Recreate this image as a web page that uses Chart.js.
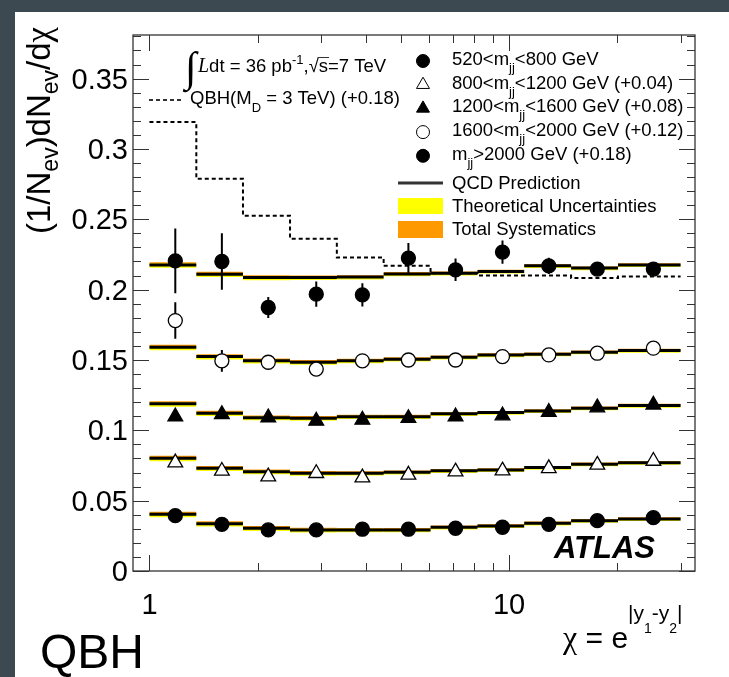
<!DOCTYPE html>
<html>
<head>
<meta charset="utf-8">
<script src="https://cdn.jsdelivr.net/npm/chart.js@4.4.1/dist/chart.umd.min.js"></script>
<style>
  html, body { margin: 0; padding: 0; background: #ffffff; }
  #wrap { width: 729px; height: 677px; }
</style>
</head>
<body>
<div id="wrap"><canvas id="chart" width="729" height="677"></canvas></div>
<script>
// chi bin edges and where each bin's point sits
const CHI_EDGES = [1, 1.35, 1.82, 2.46, 3.32, 4.48, 6.05, 8.17, 11.02, 14.88, 20.09, 30];
const CHI_POINTS = [1.18, 1.59, 2.14, 2.91, 3.91, 5.25, 7.10, 9.59, 12.9, 17.6, 25.2];

// measured (1/N)dN/dchi per dijet mass bin, offsets included
const DATA_520_800 = [0.0393, 0.0332, 0.0292, 0.0292, 0.0297, 0.0297, 0.0304, 0.0311, 0.0332, 0.0358, 0.0379];
const DATA_800_1200 = [0.0770, 0.0711, 0.0671, 0.0695, 0.0664, 0.0683, 0.0706, 0.0713, 0.0730, 0.0754, 0.0782];
const DATA_1200_1600 = [0.1097, 0.1114, 0.1090, 0.1067, 0.1074, 0.1086, 0.1097, 0.1105, 0.1129, 0.1162, 0.1181];
const DATA_1600_2000 = [0.1780, 0.1494, 0.1484, 0.1435, 0.1494, 0.1500, 0.1500, 0.1524, 0.1536, 0.1548, 0.1584];
const DATA_2000_UP = [0.2205, 0.2200, 0.1873, 0.1968, 0.1963, 0.2224, 0.2141, 0.2267, 0.2169, 0.2146, 0.2146];

// statistical errors
const ERR_520_800 = [0.0010, 0.0010, 0.0010, 0.0010, 0.0010, 0.0010, 0.0010, 0.0010, 0.0010, 0.0010, 0.0010];
const ERR_800_1200 = [0.0020, 0.0015, 0.0015, 0.0015, 0.0015, 0.0015, 0.0015, 0.0015, 0.0015, 0.0015, 0.0015];
const ERR_1200_1600 = [0.0030, 0.0025, 0.0020, 0.0020, 0.0020, 0.0020, 0.0020, 0.0020, 0.0020, 0.0020, 0.0020];
const ERR_1600_2000 = [0.0130, 0.0077, 0.0050, 0.0035, 0.0030, 0.0030, 0.0030, 0.0030, 0.0030, 0.0030, 0.0030];
const ERR_2000_UP = [0.0230, 0.0200, 0.0075, 0.0090, 0.0083, 0.0107, 0.0080, 0.0083, 0.0057, 0.0040, 0.0030];

// QCD prediction per bin
const QCD_520_800 = [0.0403, 0.0336, 0.0304, 0.0292, 0.0292, 0.0292, 0.0311, 0.0320, 0.0339, 0.0358, 0.0370];
const QCD_800_1200 = [0.0802, 0.0730, 0.0706, 0.0695, 0.0695, 0.0702, 0.0713, 0.0718, 0.0735, 0.0759, 0.0770];
const QCD_1200_1600 = [0.1188, 0.1122, 0.1090, 0.1086, 0.1097, 0.1097, 0.1117, 0.1126, 0.1138, 0.1157, 0.1176];
const QCD_1600_2000 = [0.1591, 0.1524, 0.1494, 0.1484, 0.1494, 0.1506, 0.1520, 0.1535, 0.1541, 0.1555, 0.1567];
const QCD_2000_UP = [0.2176, 0.2110, 0.2086, 0.2086, 0.2089, 0.2112, 0.2117, 0.2129, 0.2169, 0.2153, 0.2176];

// band extents around the QCD prediction
const THEORY_DOWN = [0.0021, 0.0020, 0.0019, 0.0018, 0.0017, 0.0016, 0.0016, 0.0015, 0.0015, 0.0015, 0.0015];
const THEORY_UP = [0.0009, 0.0009, 0.0008, 0.0008, 0.0008, 0.0007, 0.0007, 0.0007, 0.0007, 0.0007, 0.0007];
const SYST_DOWN = [0.0005, 0.0005, 0.0005, 0.0005, 0.0005, 0.0005, 0.0005, 0.0005, 0.0005, 0.0005, 0.0005];
const SYST_UP = [0.0018, 0.0017, 0.0016, 0.0015, 0.0014, 0.0013, 0.0012, 0.0012, 0.0012, 0.0012, 0.0012];

// quantum black hole signal, M_D = 3 TeV (+0.18)
const QBH_3TEV = [0.3191, 0.2788, 0.2525, 0.2361, 0.2228, 0.2169, 0.2117, 0.2100, 0.2100, 0.2082, 0.2093];

const Y_TICK_VALUES = [0, 0.05, 0.1, 0.15, 0.2, 0.25, 0.3, 0.35];
const Y_TICK_LABELS = ['0', '0.05', '0.1', '0.15', '0.2', '0.25', '0.3', '0.35'];
const X_TICK_VALUES = [1, 10];
const X_TICK_LABELS = ['1', '10'];
const X_MINOR = [2, 3, 4, 5, 6, 7, 8, 9, 20, 30];

const SANS = '"Liberation Sans", Arial, Helvetica, sans-serif';
const SERIF = '"Liberation Serif", "Times New Roman", serif';
const YELLOW = '#ffff00';
const ORANGE = '#ff9900';
const LEG = '18.5px ' + SANS;
const LEG_SMALL = '13px ' + SANS;

const GROUPS = [
  { values: DATA_520_800, errs: ERR_520_800, qcd: QCD_520_800, style: 'circle', open: false },
  { values: DATA_800_1200, errs: ERR_800_1200, qcd: QCD_800_1200, style: 'triangle', open: true },
  { values: DATA_1200_1600, errs: ERR_1200_1600, qcd: QCD_1200_1600, style: 'triangle', open: false },
  { values: DATA_1600_2000, errs: ERR_1600_2000, qcd: QCD_1600_2000, style: 'circle', open: true },
  { values: DATA_2000_UP, errs: ERR_2000_UP, qcd: QCD_2000_UP, style: 'circle', open: false }
];

// separate horizontal pieces, one per bin
function binSegments(values) {
  const pts = [];
  values.forEach((v, i) => {
    pts.push({ x: CHI_EDGES[i], y: v }, { x: CHI_EDGES[i + 1], y: v }, { x: CHI_EDGES[i + 1], y: null });
  });
  return pts;
}

// connected histogram outline
function histogram(values) {
  const pts = values.map((v, i) => ({ x: CHI_EDGES[i], y: v }));
  pts.push({ x: CHI_EDGES[values.length], y: values[values.length - 1] });
  return pts;
}

function errorSegments(values, errs) {
  const pts = [];
  values.forEach((v, i) => {
    const x = CHI_POINTS[i];
    pts.push({ x: x, y: v - errs[i] }, { x: x, y: v + errs[i] }, { x: x, y: null });
  });
  return pts;
}

const lineBase = { showLine: true, pointRadius: 0, spanGaps: false, tension: 0 };
const NONE = 'rgba(0,0,0,0)';

const datasets = [];
GROUPS.forEach(g => {
  const sysLo = g.qcd.map((v, i) => v - SYST_DOWN[i]);
  const sysHi = g.qcd.map((v, i) => v + SYST_UP[i]);
  const thLo = g.qcd.map((v, i) => v - THEORY_DOWN[i]);
  const thHi = g.qcd.map((v, i) => v + THEORY_UP[i]);
  datasets.push(Object.assign({}, lineBase, { data: binSegments(sysLo), borderColor: NONE, borderWidth: 1, fill: false, order: 50 }));
  datasets.push(Object.assign({}, lineBase, { data: binSegments(sysHi), borderColor: NONE, borderWidth: 1, fill: '-1', backgroundColor: ORANGE, order: 50 }));
  datasets.push(Object.assign({}, lineBase, { data: binSegments(thLo), borderColor: NONE, borderWidth: 1, fill: false, order: 40 }));
  datasets.push(Object.assign({}, lineBase, { data: binSegments(thHi), borderColor: NONE, borderWidth: 1, fill: '-1', backgroundColor: YELLOW, order: 40 }));
  datasets.push(Object.assign({}, lineBase, { data: binSegments(g.qcd), borderColor: '#000000', borderWidth: 3, fill: false, borderCapStyle: 'butt', order: 30 }));
});

datasets.push(Object.assign({}, lineBase, {
  data: histogram(QBH_3TEV), stepped: true, borderColor: '#000000', borderWidth: 2,
  borderDash: [4, 3], fill: false, order: 20
}));

GROUPS.forEach(g => {
  datasets.push(Object.assign({}, lineBase, { data: errorSegments(g.values, g.errs), borderColor: '#000000', borderWidth: 2, fill: false, order: 10 }));
  datasets.push({
    data: g.values.map((v, i) => ({ x: CHI_POINTS[i], y: v })),
    showLine: false,
    pointStyle: g.style,
    pointRadius: g.style === 'triangle' ? 8.5 : 7,
    pointBackgroundColor: g.open ? '#ffffff' : '#000000',
    pointBorderColor: '#000000',
    pointBorderWidth: 1.3,
    order: 0
  });
});

// write a run of text pieces (sub/superscripts via dy)
function drawParts(ctx, x, y, parts) {
  let cx = x;
  parts.forEach(p => {
    ctx.font = p.font;
    ctx.fillText(p.text, cx, y + (p.dy || 0));
    cx += ctx.measureText(p.text).width + (p.gap || 0);
  });
  return cx;
}

function marker(ctx, style, open, x, y) {
  ctx.save();
  ctx.fillStyle = open ? '#ffffff' : '#000000';
  ctx.strokeStyle = '#000000';
  Chart.helpers.drawPoint(ctx, { pointStyle: style, radius: style === 'triangle' ? 7.5 : 6.5, rotation: 0, borderWidth: 1.2 }, x, y);
  ctx.restore();
}

const backdrop = {
  id: 'backdrop',
  beforeDraw(chart) {
    const ctx = chart.ctx;
    ctx.save();
    ctx.fillStyle = '#ffffff';
    ctx.fillRect(0, 0, chart.width, chart.height);
    ctx.fillStyle = '#3d4950';
    ctx.fillRect(0, 0, chart.width, 12);
    ctx.fillRect(0, 0, 15, chart.height);
    ctx.restore();
  }
};

const frameAndText = {
  id: 'frameAndText',
  afterDraw(chart) {
    const ctx = chart.ctx;
    const a = chart.chartArea;
    const xs = chart.scales.x;
    const ys = chart.scales.y;
    ctx.save();

    // frame
    ctx.strokeStyle = '#333333';
    ctx.lineWidth = 1.3;
    ctx.strokeRect(a.left, a.top, a.right - a.left, a.bottom - a.top);

    // inward ticks on all four sides
    ctx.lineWidth = 1;
    ctx.beginPath();
    for (let k = 0; k <= 38; k++) {
      const py = Math.round(ys.getPixelForValue(k / 100)) + 0.5;
      const len = k % 5 === 0 ? 16 : 8;
      ctx.moveTo(a.left, py); ctx.lineTo(a.left + len, py);
      ctx.moveTo(a.right, py); ctx.lineTo(a.right - len, py);
    }
    X_TICK_VALUES.concat(X_MINOR).forEach(v => {
      const px = Math.round(xs.getPixelForValue(v)) + 0.5;
      const len = X_TICK_VALUES.includes(v) ? 16 : 8;
      ctx.moveTo(px, a.bottom); ctx.lineTo(px, a.bottom - len);
      ctx.moveTo(px, a.top); ctx.lineTo(px, a.top + len);
    });
    ctx.stroke();

    ctx.fillStyle = '#000000';
    ctx.textBaseline = 'alphabetic';

    // tick labels
    ctx.font = '29px ' + SANS;
    ctx.textAlign = 'right';
    Y_TICK_VALUES.forEach((v, i) => {
      ctx.fillText(Y_TICK_LABELS[i], 128, ys.getPixelForValue(v) + 10);
    });
    ctx.textAlign = 'center';
    X_TICK_VALUES.forEach((v, i) => {
      ctx.fillText(X_TICK_LABELS[i], xs.getPixelForValue(v), 614);
    });
    ctx.textAlign = 'left';

    // y axis title, reading upwards
    ctx.save();
    ctx.translate(50, 234);
    ctx.rotate(-Math.PI / 2);
    drawParts(ctx, 0, 0, [
      { text: '(1/N', font: '33px ' + SANS },
      { text: 'ev', font: '23px ' + SANS, dy: 8 },
      { text: ')dN', font: '33px ' + SANS },
      { text: 'ev', font: '23px ' + SANS, dy: 8 },
      { text: '/d', font: '33px ' + SANS },
      { text: 'χ', font: '35px ' + SERIF }
    ]);
    ctx.restore();

    // x axis title
    drawParts(ctx, 563, 648, [
      { text: 'χ', font: '32px ' + SERIF },
      { text: ' = e', font: '30px ' + SANS },
      { text: '|y', font: '21px ' + SANS, dy: -28 },
      { text: '1', font: '14px ' + SANS, dy: -15 },
      { text: '-y', font: '21px ' + SANS, dy: -28 },
      { text: '2', font: '14px ' + SANS, dy: -15 },
      { text: '|', font: '21px ' + SANS, dy: -28 }
    ]);

    // panel name
    ctx.font = '48px ' + SANS;
    ctx.fillText('QBH', 40, 668);

    // experiment label
    ctx.font = 'italic bold 31px ' + SANS;
    ctx.fillText('ATLAS', 554, 558);

    // luminosity line
    ctx.font = '42px ' + SERIF;
    ctx.fillText('∫', 185, 81);
    const cx = drawParts(ctx, 198, 72, [
      { text: 'L', font: 'italic 20px ' + SERIF },
      { text: 'dt = 36 pb', font: LEG },
      { text: '-1', font: LEG_SMALL, dy: -8 },
      { text: ',', font: LEG },
      { text: '√', font: LEG }
    ]);
    ctx.font = LEG;
    const sW = ctx.measureText('s').width;
    ctx.beginPath();
    ctx.lineWidth = 1;
    ctx.moveTo(cx - 1, 57.5); ctx.lineTo(cx + sW + 1, 57.5);
    ctx.stroke();
    drawParts(ctx, cx, 72, [{ text: 's=7 TeV', font: LEG }]);

    // signal legend entry
    ctx.save();
    ctx.setLineDash([4, 3]);
    ctx.lineWidth = 2;
    ctx.beginPath();
    ctx.moveTo(149, 100); ctx.lineTo(182, 100);
    ctx.stroke();
    ctx.restore();
    drawParts(ctx, 190, 104, [
      { text: 'QBH(M', font: LEG },
      { text: 'D', font: LEG_SMALL, dy: 8 },
      { text: ' = 3 TeV) (+0.18)', font: LEG }
    ]);

    // data legend
    const rows = [
      ['520<m', '<800 GeV'],
      ['800<m', '<1200 GeV (+0.04)'],
      ['1200<m', '<1600 GeV (+0.08)'],
      ['1600<m', '<2000 GeV (+0.12)'],
      ['m', '>2000 GeV (+0.18)']
    ];
    rows.forEach((r, i) => {
      const base = 65 + i * 23.7;
      marker(ctx, GROUPS[i].style, GROUPS[i].open, 423, base - 4);
      ctx.fillStyle = '#000000';
      drawParts(ctx, 452, base, [
        { text: r[0], font: LEG },
        { text: 'jj', font: LEG_SMALL, dy: 7 },
        { text: r[1], font: LEG }
      ]);
    });

    ctx.lineWidth = 3;
    ctx.beginPath();
    ctx.moveTo(398, 183); ctx.lineTo(443, 183);
    ctx.stroke();
    ctx.fillStyle = YELLOW;
    ctx.fillRect(398, 198, 45, 16);
    ctx.fillStyle = ORANGE;
    ctx.fillRect(398, 221, 45, 17);
    ctx.fillStyle = '#000000';
    ctx.font = LEG;
    ctx.fillText('QCD Prediction', 452, 189);
    ctx.fillText('Theoretical Uncertainties', 452, 212);
    ctx.fillText('Total Systematics', 452, 235);

    ctx.restore();
  }
};

new Chart(document.getElementById('chart').getContext('2d'), {
  type: 'scatter',
  data: { datasets: datasets },
  options: {
    responsive: false,
    animation: false,
    devicePixelRatio: 1,
    layout: { padding: { left: 133, top: 35, right: 34, bottom: 106 } },
    scales: {
      x: { type: 'logarithmic', min: 0.9, max: 32.9, display: false },
      y: { type: 'linear', min: 0, max: 0.381, display: false }
    },
    plugins: {
      legend: { display: false },
      tooltip: { enabled: false }
    }
  },
  plugins: [backdrop, frameAndText]
});
</script>
</body>
</html>
